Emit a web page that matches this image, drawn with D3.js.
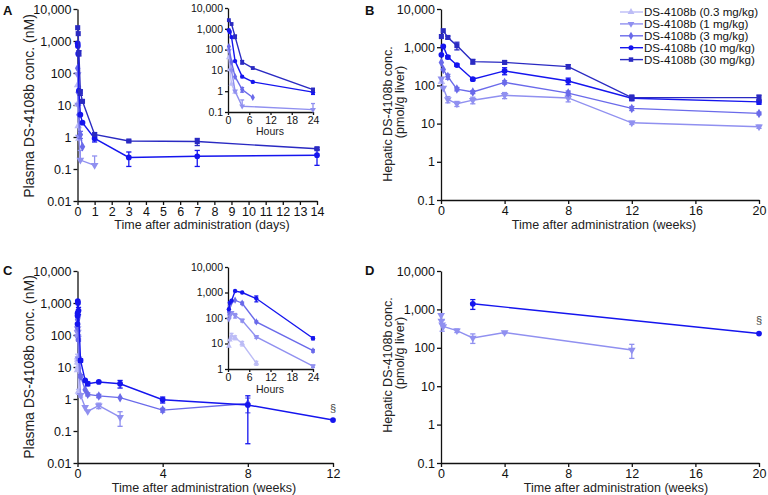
<!DOCTYPE html>
<html>
<head>
<meta charset="utf-8">
<script src="https://cdn.jsdelivr.net/npm/d3@7"></script>
<style>
  body { margin: 0; background: #fff; }
  text { font-family: "Liberation Sans", Arial, sans-serif; }
</style>
</head>
<body>
<div id="chart"></div>
<script>
// Canvas
const width = 768;
const height = 495;

// Doses (legend order, lightest first)
const doseLabels = ["DS-4108b (0.3 mg/kg)", "DS-4108b (1 mg/kg)", "DS-4108b (3 mg/kg)",
                    "DS-4108b (10 mg/kg)", "DS-4108b (30 mg/kg)"];
const doseColors = ["#bcbcf6", "#9090f0", "#6a6aea", "#1515ee", "#2a2ac2"];

// Tick values
const yTicksMain = [0.01, 0.1, 1, 10, 100, 1000, 10000];
const yTicksLiver = [0.1, 1, 10, 100, 1000, 10000];
const yTicksInsetA = [0.1, 1, 10, 100, 1000, 10000];
const yTicksInsetC = [1, 10, 100, 1000, 10000];
const dayTicks = d3.range(0, 15);
const weekTicksC = [0, 4, 8, 12];
const weekTicksLiver = [0, 4, 8, 12, 16, 20];
const hourTicks = [0, 6, 12, 18, 24];

// ---- Panel A: plasma, single dose. [time, value, sd]
// first day in hours
const aH03 = [[0.25, 42], [0.5, 11], [1, 2.2], [2, 0.9]];
const aH1  = [[0.25, 90], [1, 10], [2, 1.0], [4, 0.19, 0.19], [24, 0.13, 0.125]];
const aH3  = [[0.25, 140], [1, 25], [2, 5], [4, 1.2, 0.3], [7, 0.5]];
const aH10 = [[0.25, 850], [0.5, 700], [1, 400], [2, 28], [4, 5], [7, 2.8], [24, 0.9, 0.2]];
const aH30 = [[0.25, 2600], [1, 1700], [2, 420, 80], [4, 25, 5], [7, 13], [24, 1.2, 0.15]];
// later samples in days
const aD10 = [[3, 0.23, 0.11], [7, 0.25, 0.13], [14, 0.27, 0.14]];
const aD30 = [[3, 0.75, 0.05], [7, 0.72, 0.18], [14, 0.43, 0.04]];

// ---- Panel B: liver, single dose, weeks
const bW03 = [[0.024, 125]];
const bW1  = [[0.024, 150], [0.143, 85], [0.43, 43, 8], [1, 33, 5], [2, 41, 8], [4, 55, 10], [8, 47, 10], [12, 10.5, 1], [20, 8.3, 0.8]];
const bW3  = [[0.024, 400], [0.143, 260], [0.43, 170, 25], [1, 80, 8], [2, 67, 6], [4, 120, 12], [8, 63, 8], [12, 25, 3], [20, 18.5, 1.5]];
const bW10 = [[0.024, 630], [0.143, 1050], [0.43, 550, 50], [1, 340, 25], [2, 145, 12], [4, 240, 50], [8, 130, 25], [12, 46, 6], [20, 37, 5]];
const bW30 = [[0.024, 1900], [0.143, 2700], [0.43, 1800, 150], [1, 1100, 250], [2, 420, 60], [4, 400, 40], [8, 310, 40], [12, 48, 8], [20, 48, 8]];

// ---- Panel C: plasma, repeated dose. first day in hours, then weeks
const cH03 = [[0.25, 8], [0.5, 14], [1, 20, 5], [2, 17, 3], [4, 10, 2], [8, 1.7, 0.3]];
const cH1  = [[0.25, 90], [0.5, 120], [1, 160], [2, 125, 25], [4, 80, 10], [8, 18, 2], [24, 1.3, 0.15]];
const cH3  = [[0.25, 170], [0.5, 300], [1, 420], [2, 500], [4, 380, 40], [8, 70, 6], [24, 5.2, 0.6]];
const cH10 = [[0.25, 220], [0.5, 400], [1, 480], [2, 1150], [4, 1000], [8, 580, 150], [24, 16, 2]];
const cW1  = [[0.36, 0.55], [0.48, 0.41], [1, 0.62, 0.12], [2, 0.27, 0.13]];
const cW3  = [[0.36, 1.95], [0.48, 1.4, 0.15], [1, 1.25, 0.15], [2, 1.1], [4, 0.45, 0.06], [8, 0.72, 0.35]];
const cW10 = [[0.36, 3.8], [0.48, 3.0, 0.4], [1, 3.4], [2, 3.0, 0.8], [4, 0.95, 0.2], [8, 0.65, 0.61], [12, 0.22]];

// ---- Panel D: liver, repeated dose, weeks
const dW1  = [[0.006, 700], [0.024, 500], [0.071, 400, 130], [0.143, 360], [1, 280, 30], [2, 180, 50], [4, 250, 15], [12, 88, 35]];
const dW10 = [[2, 1400, 400], [20, 235]];

const svg = d3.select("#chart").append("svg")
    .attr("width", width)
    .attr("height", height);

const fmtY = d3.format(",");
const fmtX = d3.format("d");

function makeAxes(p) {
    const g = svg.append("g");
    const gx = g.append("g")
        .attr("transform", `translate(0,${p.y.range()[0]})`)
        .call(d3.axisBottom(p.x).tickValues(p.xt).tickFormat(fmtX)
            .tickSize(p.tick).tickSizeOuter(0).tickPadding(2));
    const gy = g.append("g")
        .attr("transform", `translate(${p.x.range()[0]},0)`)
        .call(d3.axisLeft(p.y).tickValues(p.yt).tickFormat(fmtY)
            .tickSize(p.tick).tickSizeOuter(0).tickPadding(2));
    [gx, gy].forEach(a => {
        a.attr("font-size", p.font).attr("font-family", null);
        a.selectAll("path, line").attr("stroke", "#111").attr("stroke-width", 1.3);
        a.selectAll("text").attr("fill", "#111");
    });
    return g;
}

const symbolFor = [d3.symbolTriangle, d3.symbolTriangle, d3.symbolDiamond, d3.symbolCircle, d3.symbolSquare];

function drawSeries(p, pts, i, sz) {
    const col = doseColors[i];
    const g = svg.append("g");
    const line = d3.line().x(d => p.x(d[0])).y(d => p.y(d[1]));
    if (pts.length > 1) {
        g.append("path").attr("d", line(pts))
            .attr("fill", "none").attr("stroke", col).attr("stroke-width", 1.4);
    }
    const lo = p.y.domain()[0];
    const cap = sz.cap;
    pts.filter(d => d[2]).forEach(d => {
        const x = p.x(d[0]);
        const yv = p.y(d[1]);
        const ends = [p.y(d[1] + d[2])];
        // lower whisker only when it stays inside the axis
        if (d[1] - d[2] >= lo) ends.push(p.y(d[1] - d[2]));
        ends.forEach(yy => {
            g.append("line").attr("x1", x).attr("x2", x).attr("y1", yv).attr("y2", yy)
                .attr("stroke", col).attr("stroke-width", 1.3);
            g.append("line")
                .attr("x1", x - cap).attr("x2", x + cap).attr("y1", yy).attr("y2", yy)
                .attr("stroke", col).attr("stroke-width", 1.3);
        });
    });
    g.selectAll(null).data(pts).join("path")
        .attr("transform", d => `translate(${p.x(d[0])},${p.y(d[1])})` + (i === 1 ? " rotate(180)" : ""))
        .attr("d", d3.symbol(symbolFor[i], sz.area))
        .attr("fill", col);
}

function yTitle(lines, x, y, size) {
    lines.forEach((s, k) => {
        svg.append("text")
            .attr("transform", `translate(${x[k]},${y[k]}) rotate(-90)`)
            .attr("text-anchor", "middle")
            .attr("font-size", size)
            .attr("fill", "#222")
            .text(s);
    });
}

function xTitle(s, x, y, size) {
    svg.append("text").attr("x", x).attr("y", y)
        .attr("text-anchor", "middle").attr("font-size", size).attr("fill", "#222").text(s);
}

function letter(s, x, y) {
    svg.append("text").attr("x", x).attr("y", y)
        .attr("font-size", 13).attr("font-weight", "bold").attr("fill", "#111").text(s);
}

const mainSize = { area: 26, cap: 2.6 };
const insetSize = { area: 15, cap: 2 };

// ---------- Panel A
const pA = { x: d3.scaleLinear([0, 14], [77.5, 317]), y: d3.scaleLog([0.01, 10000], [201, 9]),
             xt: dayTicks, yt: yTicksMain, tick: 4, font: 12.5 };
const pAi = { x: d3.scaleLinear([0, 24], [228, 313]), y: d3.scaleLog([0.1, 10000], [112, 8]),
              xt: hourTicks, yt: yTicksInsetA, tick: 3, font: 10.5 };
makeAxes(pA);
makeAxes(pAi);
const aHours = [aH03, aH1, aH3, aH10, aH30];
const aDays = [[], [], [], aD10, aD30];
aHours.forEach((h, i) => {
    const pts = h.map(d => [d[0] / 24, d[1], d[2]]).concat(aDays[i]);
    drawSeries(pA, pts, i, mainSize);
    drawSeries(pAi, h, i, insetSize);
});
yTitle(["Plasma DS-4108b conc. (nM)"], [34], [106], 14);
xTitle("Time after administration (days)", 202, 229, 12.5);
xTitle("Hours", 270, 135, 10.5);
letter("A", 3, 15);

// ---------- Panel B
const pB = { x: d3.scaleLinear([0, 20], [441, 759]), y: d3.scaleLog([0.1, 10000], [200, 9]),
             xt: weekTicksLiver, yt: yTicksLiver, tick: 4, font: 12.5 };
makeAxes(pB);
[bW03, bW1, bW3, bW10, bW30].forEach((s, i) => drawSeries(pB, s, i, mainSize));
yTitle(["Hepatic DS-4108b conc.", "(pmol/g liver)"], [392, 404], [114, 102], 12.5);
xTitle("Time after administration (weeks)", 604, 229, 12.5);
letter("B", 365, 15);

// legend
const lg = svg.append("g");
doseLabels.forEach((lab, i) => {
    const yy = 12 + i * 11.9;
    const lp = { x: d3.scaleLinear([0, 1], [620, 643]), y: d3.scaleLinear([0, 1], [yy, yy]) };
    drawSeries(lp, [[0, 0], [1, 0]], i, { area: 0, cap: 0 });
    lg.append("path")
        .attr("transform", `translate(631,${yy})` + (i === 1 ? " rotate(180)" : ""))
        .attr("d", d3.symbol(symbolFor[i], 20))
        .attr("fill", doseColors[i]);
    lg.append("text").attr("x", 644).attr("y", yy + 4.2)
        .attr("font-size", 11.6).attr("fill", "#111").text(lab);
});

// ---------- Panel C
const pC = { x: d3.scaleLinear([0, 12], [77.5, 333]), y: d3.scaleLog([0.01, 10000], [463, 271]),
             xt: weekTicksC, yt: yTicksMain, tick: 4, font: 12.5 };
const pCi = { x: d3.scaleLinear([0, 24], [228, 313]), y: d3.scaleLog([1, 10000], [369, 267]),
              xt: hourTicks, yt: yTicksInsetC, tick: 3, font: 10.5 };
makeAxes(pC);
makeAxes(pCi);
const cHours = [cH03, cH1, cH3, cH10];
const cWeeks = [[], cW1, cW3, cW10];
cHours.forEach((h, i) => {
    const pts = h.map(d => [d[0] / 168, d[1], d[2]]).concat(cWeeks[i]);
    drawSeries(pC, pts, i, mainSize);
    drawSeries(pCi, h, i, insetSize);
});
yTitle(["Plasma DS-4108b conc. (nM)"], [34], [367], 14);
xTitle("Time after administration (weeks)", 204, 491.5, 12.5);
xTitle("Hours", 270, 392.5, 10.5);
svg.append("text").attr("x", pC.x(12)).attr("y", pC.y(0.22) - 8)
    .attr("text-anchor", "middle").attr("font-size", 11).attr("fill", "#444").text("§");
letter("C", 3, 275);

// ---------- Panel D
const pD = { x: d3.scaleLinear([0, 20], [441, 759]), y: d3.scaleLog([0.1, 10000], [463, 271]),
             xt: weekTicksLiver, yt: yTicksLiver, tick: 4, font: 12.5 };
makeAxes(pD);
drawSeries(pD, dW1, 1, mainSize);
drawSeries(pD, dW10, 3, mainSize);
yTitle(["Hepatic DS-4108b conc.", "(pmol/g liver)"], [392, 404], [365, 353], 12.5);
xTitle("Time after administration (weeks)", 616, 491.5, 12.5);
svg.append("text").attr("x", pD.x(20)).attr("y", pD.y(235) - 10)
    .attr("text-anchor", "middle").attr("font-size", 11).attr("fill", "#444").text("§");
letter("D", 365, 275);
</script>
</body>
</html>
